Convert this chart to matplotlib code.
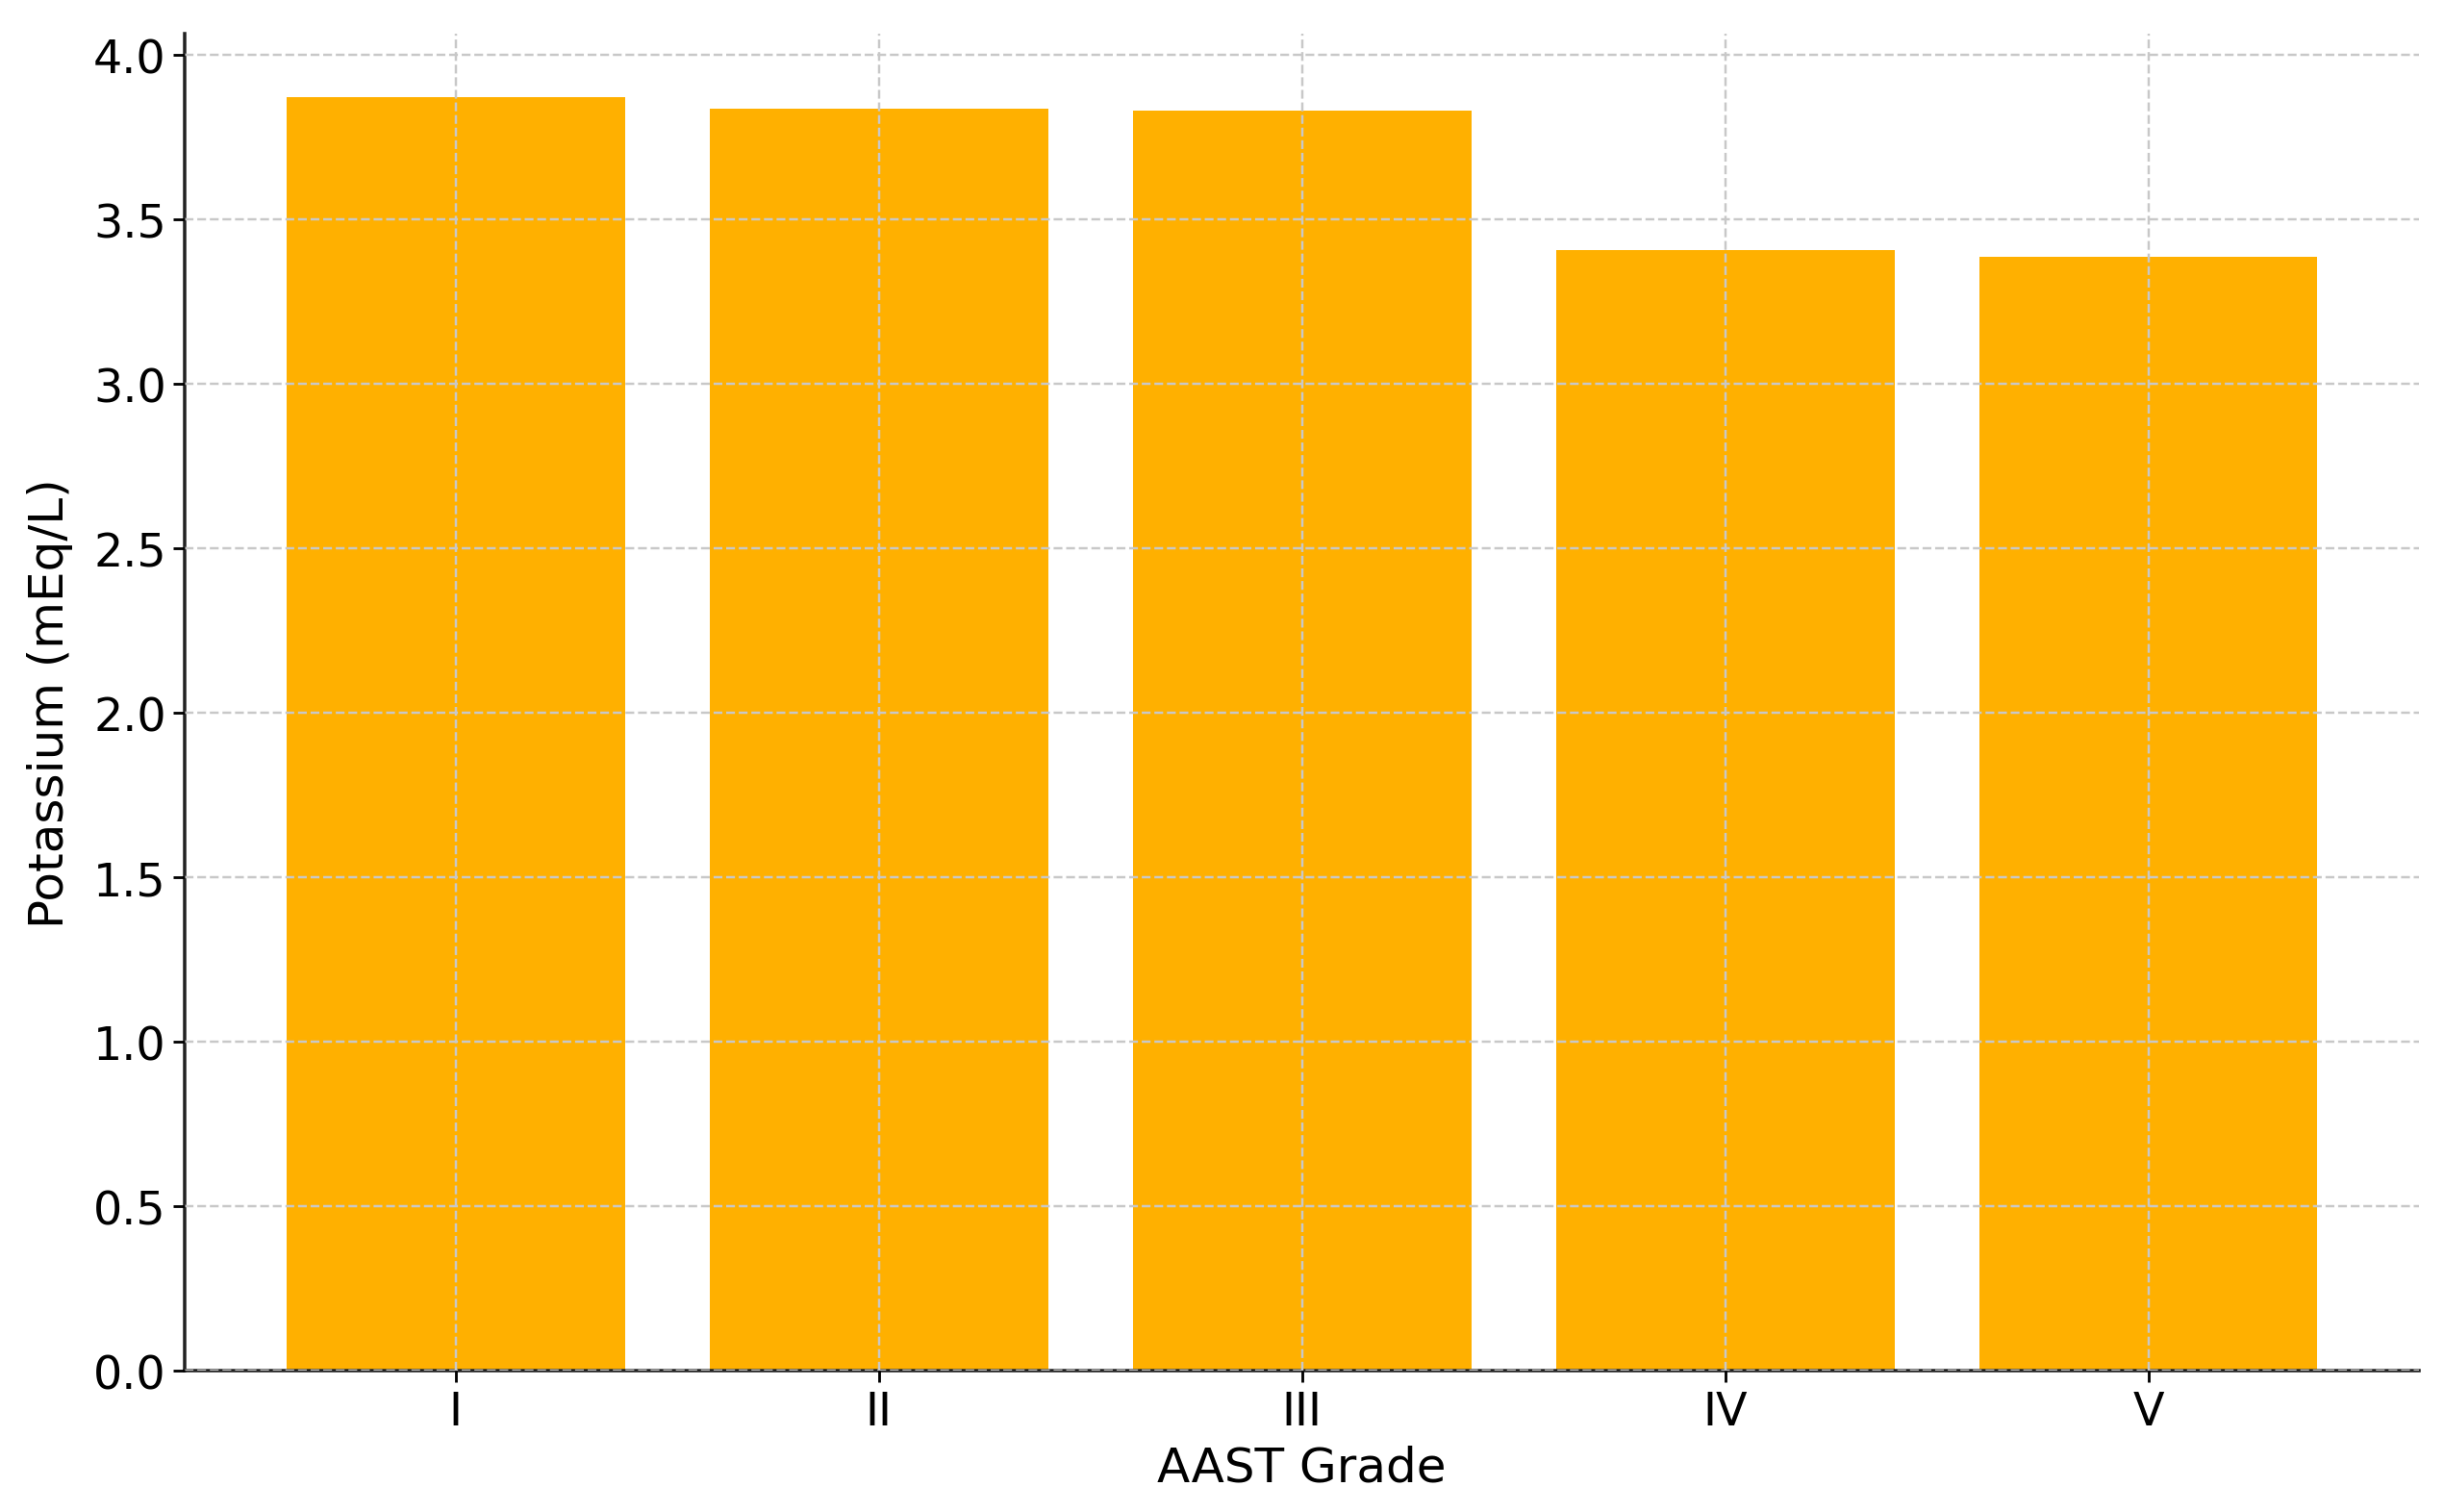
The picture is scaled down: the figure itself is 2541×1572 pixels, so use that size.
import matplotlib
matplotlib.use("Agg")
import matplotlib.pyplot as plt

grades = ["I", "II", "III", "IV", "V"]
potassium = [3.87, 3.835, 3.83, 3.405, 3.385]

plt.rcParams["font.family"] = "DejaVu Sans"
plt.rcParams["font.size"] = 13.5

fig = plt.figure(figsize=(10, 6.19), dpi=254.1)
ax = fig.add_axes([0.0756, 0.0935, 0.9142, 0.8835])

ax.bar(grades, potassium, color="#FFB000", width=0.8)
ax.set_xlabel("AAST Grade", fontsize=14.2, labelpad=3)
ax.set_ylabel("Potassium (mEq/L)", fontsize=14.2, labelpad=6)
ax.set_yticks([0, 0.5, 1.0, 1.5, 2.0, 2.5, 3.0, 3.5, 4.0])
ax.tick_params(axis="y", pad=2)
ax.tick_params(axis="x", pad=2)

ax.grid(True, linestyle="--", color="#c8c8c8", linewidth=0.7)
ax.set_axisbelow(False)
ax.spines["top"].set_visible(False)
ax.spines["right"].set_visible(False)
for s in ("left", "bottom"):
    ax.spines[s].set_linewidth(1.0)
    ax.spines[s].set_color("#222222")

fig.savefig("out.png", dpi=254.1)
